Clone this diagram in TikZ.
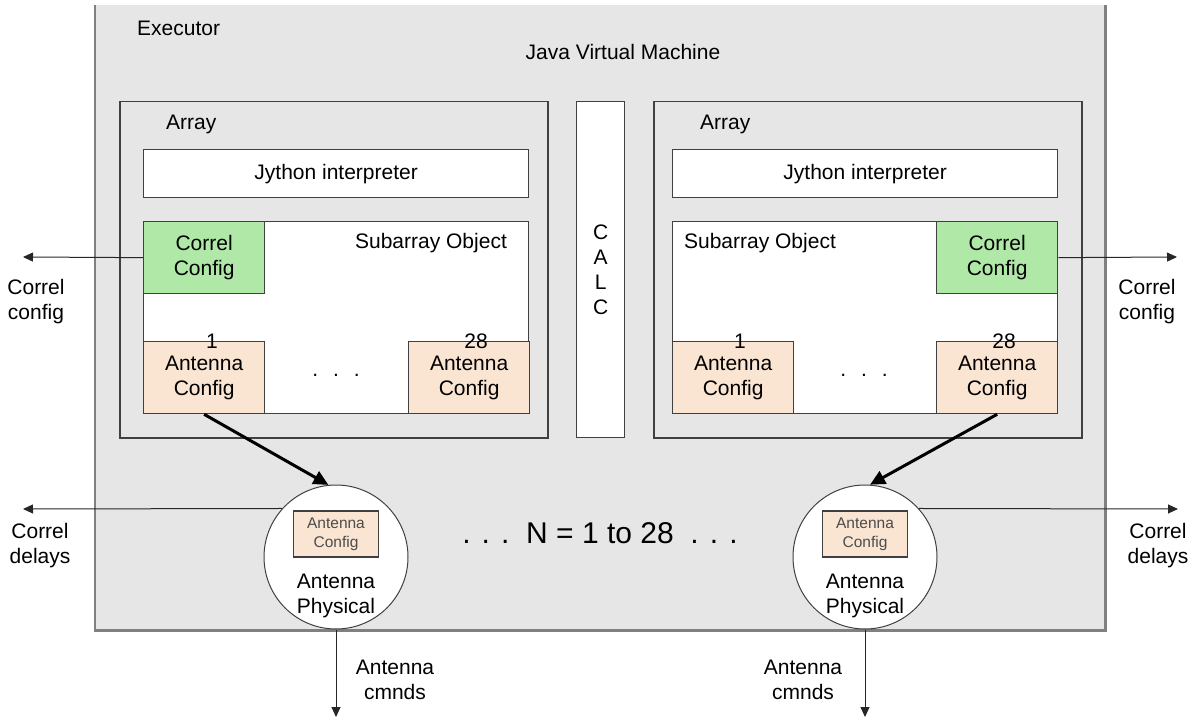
\documentclass[tikz,border=0pt]{standalone}
\usepackage{fontspec}
\setmainfont{Liberation Sans}
\usepackage{xcolor}
\usetikzlibrary{arrows.meta,positioning}

\definecolor{execgray}{RGB}{230,230,230}
\definecolor{framegray}{RGB}{128,128,128}
\definecolor{linegray}{RGB}{64,64,64}
\definecolor{correlgreen}{RGB}{176,232,168}
\definecolor{antpeach}{RGB}{250,228,210}

\begin{document}
\begin{tikzpicture}[x=1pt, y=-1pt,
    font=\fontsize{21}{25}\selectfont,
    frame/.style={fill=execgray, inner sep=0pt, anchor=north west},
    group/.style={draw=linegray, line width=1.5pt, fill=execgray,
      inner sep=0pt, anchor=north west,
      minimum width=428pt, minimum height=336pt},
    block/.style={draw=linegray, line width=1.3pt, fill=white,
      inner sep=0pt, anchor=north west, align=center},
    correl/.style={block, fill=correlgreen, minimum width=121pt, minimum height=72pt},
    antcfg/.style={block, fill=antpeach, minimum width=121pt, minimum height=72pt},
    mini/.style={block, fill=antpeach, anchor=center, text=black!70,
      minimum width=85pt, minimum height=46pt, font=\fontsize{15.5}{19}\selectfont},
    phys/.style={circle, draw=linegray, line width=1pt, fill=white,
      minimum size=144pt, inner sep=0pt},
    txt/.style={inner sep=0pt, align=center},
    arrow/.style={-{Triangle[length=10pt,width=9pt]}, line width=1pt, draw=black!85},
    bigarrow/.style={-{Triangle[length=15pt,width=14pt]}, line width=3pt}
  ]
  \useasboundingbox (0,0) rectangle (1194,719);

  % executor, top edge cut off
  \node[frame, minimum width=1010pt, minimum height=625pt] (exec) at (95,5) {};
  \draw[framegray, line width=2.5pt] (exec.north west) -- (exec.south west)
    -- (exec.south east) -- (exec.north east);
  \node[txt, anchor=west] (execlbl) at (137,28) {Executor};
  \node[txt] (jvm) at (623,52) {Java Virtual Machine};

  \node[group] (arrL) at (119,101) {};
  \node[group] (arrR) at (653,101) {};
  \node[txt, anchor=west] (arrLlbl) at (166,124) {Array};
  \node[txt, anchor=west] (arrRlbl) at (700,124) {Array};

  \node[block, minimum width=48pt, minimum height=336pt] (calc) at (576,101) {C\\A\\L\\C};

  % left array
  \node[block, minimum width=385pt, minimum height=48pt] (jyL) at (143,149) {Jython interpreter};
  \node[block, minimum width=385pt, minimum height=192pt] (subL) at (143,221) {};
  \node[txt] (subLlbl) at (431,243) {Subarray Object};
  \node[correl] (corL) at (143,221) {Correl\\Config};
  \node[antcfg] (antL1) at (143,341) {Antenna\\Config};
  \node[antcfg] (antL28) at (408,341) {Antenna\\Config};
  \node[txt] (numL1) at (212,341) {1};
  \node[txt] (numL28) at (476,341) {28};
  \node[txt] (dotsL) at (336,375) {.\hspace{15pt}.\hspace{15pt}.};

  % right array
  \node[block, minimum width=385pt, minimum height=48pt] (jyR) at (672,149) {Jython interpreter};
  \node[block, minimum width=385pt, minimum height=192pt] (subR) at (672,221) {};
  \node[txt] (subRlbl) at (760,243) {Subarray Object};
  \node[correl] (corR) at (936,221) {Correl\\Config};
  \node[antcfg] (antR1) at (672,341) {Antenna\\Config};
  \node[antcfg] (antR28) at (936,341) {Antenna\\Config};
  \node[txt] (numR1) at (740,341) {1};
  \node[txt] (numR28) at (1004,341) {28};
  \node[txt] (dotsR) at (864,375) {.\hspace{15pt}.\hspace{15pt}.};

  % antenna physical
  \node[phys] (physL) at (336,557) {};
  \node[mini] (cfgL) at (336,534) {Antenna\\Config};
  \node[txt] (physLlbl) at (336,596) {Antenna\\Physical};
  \node[phys] (physR) at (865,557) {};
  \node[mini] (cfgR) at (865,534) {Antenna\\Config};
  \node[txt] (physRlbl) at (865,596) {Antenna\\Physical};

  \node[txt, font=\fontsize{30}{36}\selectfont] (nrange) at (600,533) {. . .\ \ N = 1 to 28\ \ . . .};

  \coordinate (ccL) at (23,257);
  \coordinate (ccR) at (1177,257);
  \coordinate (cdL) at (23,509);
  \coordinate (cdR) at (1178,509);
  \coordinate (acL) at (336,717);
  \coordinate (acR) at (865,717);

  \draw[arrow] (corL.west) -- (ccL);
  \draw[arrow] (corR.east) -- (ccR);
  \draw[arrow] (physL.138) -- (cdL);
  \draw[arrow] (physR.42) -- (cdR);
  \draw[arrow] (physL.south) -- (acL);
  \draw[arrow] (physR.south) -- (acR);
  \draw[bigarrow] (antL1.south) -- (physL.96);
  \draw[bigarrow] (antR28.south) -- (physR.86);

  \node[txt] (ccLlbl) at (36,302) {Correl\\config};
  \node[txt] (ccRlbl) at (1147,302) {Correl\\config};
  \node[txt] (cdLlbl) at (40,546) {Correl\\delays};
  \node[txt] (cdRlbl) at (1158,546) {Correl\\delays};
  \node[txt] (acLlbl) at (395,680) {Antenna\\cmnds};
  \node[txt] (acRlbl) at (803,680) {Antenna\\cmnds};
\end{tikzpicture}
\end{document}
